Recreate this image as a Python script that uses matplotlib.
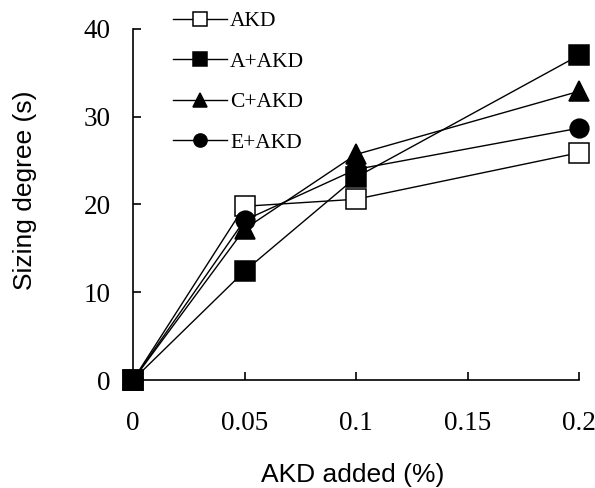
import matplotlib
matplotlib.use('Agg')
import matplotlib.pyplot as plt

akd_added = [0, 0.05, 0.1, 0.2]
akd = [0, 19.8, 20.6, 25.9]
a_akd = [0, 12.4, 23.1, 37.0]
c_akd = [0, 17.2, 25.7, 32.9]
e_akd = [0, 18.2, 24.0, 28.7]

x_ticks = [0, 0.05, 0.1, 0.15, 0.2]
x_tick_labels = ['0', '0.05', '0.1', '0.15', '0.2']
y_ticks = [0, 10, 20, 30, 40]

fig = plt.figure(figsize=(5.95, 4.88), dpi=100)
ax = fig.add_axes([133 / 595, 1 - 380 / 488, (579 - 133) / 595, (380 - 29) / 488])

style = dict(color='black', lw=1.0, mec='black', mew=1.1, clip_on=False)
ax.plot(akd_added, akd, marker='s', ms=14, mfc='white', label='AKD', **style)
ax.plot(akd_added, a_akd, marker='s', ms=14, mfc='black', label='A+AKD', **style)
ax.plot(akd_added, c_akd, marker='^', ms=14, mfc='black', label='C+AKD', **style)
ax.plot(akd_added, e_akd, marker='o', ms=13.5, mfc='black', label='E+AKD', **style)

ax.set_xlim(0, 0.2)
ax.set_ylim(0, 40)
ax.set_xticks(x_ticks)
ax.set_xticklabels(x_tick_labels)
ax.set_yticks(y_ticks)
for s in ['top', 'right']:
    ax.spines[s].set_visible(False)
for s in ['left', 'bottom']:
    ax.spines[s].set_linewidth(1.2)
ax.tick_params(direction='in', length=6, width=1.2, labelsize=19.5)
ax.tick_params(axis='x', pad=22)
ax.tick_params(axis='y', pad=16)
for lbl in ax.get_xticklabels() + ax.get_yticklabels():
    lbl.set_family('Liberation Serif')

xl = ax.set_xlabel('AKD added (%)', fontsize=19, family='Liberation Sans')
yl = ax.set_ylabel('Sizing degree (s)', fontsize=19, family='Liberation Sans')
xl.set_va('center')
yl.set_va('center')
ax.xaxis.set_label_coords((353 - 133) / 446, (380 - 475) / 351)
ax.yaxis.set_label_coords((25 - 133) / 446, (380 - 190) / 351)

ax.legend(loc='upper left', bbox_to_anchor=(173 / 595, 1 - 11 / 488),
          bbox_transform=fig.transFigure, frameon=False, borderpad=0,
          borderaxespad=0, handlelength=2.5, handletextpad=0.15,
          labelspacing=0.95, markerscale=0.7,
          prop={'family': 'Liberation Serif', 'size': 15.5})

fig.savefig('out.png', dpi=100)
